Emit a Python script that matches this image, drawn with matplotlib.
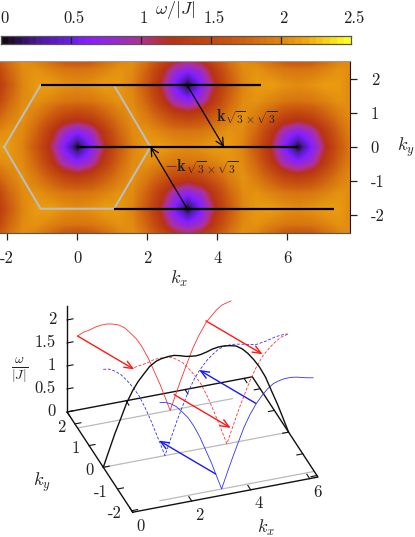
import numpy as np
import matplotlib
matplotlib.use('Agg')
import matplotlib.pyplot as plt
from matplotlib.colors import LinearSegmentedColormap

plt.rcParams['mathtext.fontset'] = 'cm'
plt.rcParams['font.family'] = ['cmr10', 'DejaVu Sans']
plt.rcParams['axes.unicode_minus'] = False

# ---------- data ----------
cbar_ticks = [0, 0.5, 1, 1.5, 2, 2.5]
cbar_labels = ['0', '0.5', '1', '1.5', '2', '2.5']
palette_pos = [0, 0.25, 0.5, 0.62, 0.9, 1.0, 1.2, 1.5, 1.75, 2.0, 2.2, 2.5]
palette_col = ['#140a14', '#4c1a9c', '#6e1eec', '#8a1eff', '#a030b4', '#b03090', '#b83216',
               '#c24810', '#cf6010', '#de8410', '#f0a810', '#ffff20']

heat_x_ticks = [-2, 0, 2, 4, 6]
heat_y_ticks = [-2, -1, 0, 1, 2]

# energy table: rows top to bottom, columns left to right
heat_rows_y = [2.715, 2.26, 1.81, 1.36, 0.905, 0.45, 0, -0.45, -0.905, -1.36, -1.81, -2.26, -2.715]
heat_cols_x = [-2.356, -1.963, -1.571, -1.178, -0.785, -0.393, 0, 0.393, 0.785, 1.178, 1.571, 1.963, 2.356,
               2.749, 3.142, 3.534, 3.927, 4.320, 4.712, 5.105, 5.498, 5.890, 6.283, 6.676, 7.069, 7.461,
               7.854, 8.247]
row_a = [1.72, 1.94, 2.08, 1.94, 1.72, 1.48, 1.38, 1.48, 1.72, 1.94, 2.08, 1.94, 1.72, 1.48, 1.38, 1.48, 1.72, 1.94, 2.08, 1.94, 1.72, 1.48, 1.38, 1.48, 1.72, 1.94, 2.08, 1.94]
row_b = [1.35, 1.78, 2.03, 2.08, 2.00, 1.92, 1.90, 1.92, 2.00, 2.08, 2.03, 1.78, 1.35, 0.88, 0.68, 0.88, 1.35, 1.78, 2.03, 2.08, 2.00, 1.92, 1.90, 1.92, 2.00, 2.08, 2.03, 1.78]
row_c = [1.16, 1.66, 2.00, 2.12, 2.14, 2.08, 2.04, 2.08, 2.14, 2.12, 2.00, 1.66, 1.16, 0.60, 0.00, 0.60, 1.16, 1.66, 2.00, 2.12, 2.14, 2.08, 2.04, 2.08, 2.14, 2.12, 2.00, 1.66]
row_d = [2.00, 2.08, 2.03, 1.78, 1.35, 0.88, 0.68, 0.88, 1.35, 1.78, 2.03, 2.08, 2.00, 1.92, 1.90, 1.92, 2.00, 2.08, 2.03, 1.78, 1.35, 0.88, 0.68, 0.88, 1.35, 1.78, 2.03, 2.08]
row_e = [2.14, 2.12, 2.00, 1.66, 1.16, 0.60, 0.00, 0.60, 1.16, 1.66, 2.00, 2.12, 2.14, 2.08, 2.04, 2.08, 2.14, 2.12, 2.00, 1.66, 1.16, 0.60, 0.00, 0.60, 1.16, 1.66, 2.00, 2.12]
heat_table = [row_a, row_b, row_c, row_b, row_a, row_d, row_e, row_d, row_a, row_b, row_c, row_b, row_a]

hex_x = [-2.09, -1.05, 1.05, 2.09, 1.05, -1.05, -2.09]
hex_y = [0, 1.81, 1.81, 0, -1.81, -1.81, 0]

path_y = [1.81, 0, -1.81]
path_x0 = [-1.05, 0, 1.05]
path_x1 = [5.24, 6.28, 7.33]

top_arrow_from = [(3.14, 1.81), (3.14, -1.81)]
top_arrow_to = [(4.19, 0), (2.09, 0)]

# 3D panel curves
black_kx = [0, .2, .39, .6, .79, 1, 1.18, 1.4, 1.57, 1.8, 1.96, 2.2, 2.4, 2.6, 2.8, 3.0, 3.14, 3.3, 3.5, 3.7, 3.9, 4.1, 4.3, 4.5, 4.71, 4.9, 5.1, 5.3, 5.5, 5.7, 5.9, 6.08, 6.28]
black_w = [0, .35, .68, 1.0, 1.3, 1.55, 1.72, 1.88, 2.0, 2.09, 2.12, 2.14, 2.14, 2.11, 2.07, 2.05, 2.04, 2.05, 2.08, 2.12, 2.14, 2.14, 2.12, 2.09, 2.0, 1.88, 1.72, 1.53, 1.29, .97, .66, .35, 0]

red_kx = [0, .2, .4, .6, .8, 1.0, 1.16, 1.4, 1.6, 1.8, 2.0, 2.2, 2.4, 2.6, 2.8, 2.94, 3.14, 3.34, 3.5, 3.7, 3.9, 4.1, 4.35, 4.5, 4.7, 4.9, 5.2]
red_w = [2.0, 2.06, 2.08, 2.12, 2.14, 2.14, 2.12, 2.07, 1.98, 1.84, 1.69, 1.48, 1.22, .91, .6, .35, 0, .35, .62, .94, 1.25, 1.5, 1.76, 1.86, 1.99, 2.08, 2.13]

blue_kx = [1.05, 1.2, 1.4, 1.6, 1.8, 2.0, 2.2, 2.4, 2.6, 2.8, 2.94, 3.14, 3.34, 3.5, 3.7, 3.9, 4.1, 4.3, 4.5, 4.7, 4.9, 5.1, 5.3, 5.5, 5.7, 6.0, 6.24]
blue_w = [2.13, 2.12, 2.07, 1.98, 1.84, 1.69, 1.48, 1.22, .91, .6, .35, 0, .35, .62, .94, 1.25, 1.5, 1.7, 1.86, 1.99, 2.08, 2.12, 2.14, 2.14, 2.12, 2.07, 2.04]

blue_dash_kx = [0, .2, .4, .6, .8, 1.0, 1.2, 1.4, 1.6, 1.89, 2.09, 2.29, 2.5, 2.7, 2.9, 3.1, 3.25, 3.5, 3.7, 3.9, 4.1, 4.3, 4.5, 4.8, 5.0, 5.2, 5.5, 5.8, 6.0, 6.25]
blue_dash_w = [2.13, 2.11, 2.04, 1.94, 1.79, 1.62, 1.42, 1.15, .84, .35, 0, .35, .71, 1.02, 1.32, 1.56, 1.7, 1.89, 2.0, 2.09, 2.13, 2.14, 2.13, 2.09, 2.06, 2.04, 2.07, 2.12, 2.14, 2.14]

red_dash_kx = [1.05, 1.3, 1.5, 1.7, 1.9, 2.1, 2.3, 2.5, 2.7, 2.9, 3.1, 3.3, 3.5, 3.7, 3.9, 4.0, 4.19, 4.39, 4.6, 4.8, 5.0, 5.2, 5.4, 5.6, 5.8, 6.0, 6.25]
red_dash_w = [2.04, 2.07, 2.09, 2.13, 2.14, 2.13, 2.11, 2.04, 1.94, 1.79, 1.62, 1.42, 1.15, .84, .5, .33, 0, .35, .71, 1.02, 1.32, 1.56, 1.76, 1.89, 2.0, 2.09, 2.13]

grey_ky = [1.81, 0, -1.81]
grey_kx0 = [0, 0, 1.05]
grey_kx1 = [5.24, 6.28, 6.28]

# arrows as (kx, ky, w) -> (kx, ky, w)
red_arrows = [((0, 1.81, 2.0), (1.05, 0, 2.0)),
              ((3.27, 1.81, .33), (4.32, 0, .33)),
              ((4.35, 1.81, 1.8), (5.4, 0, 1.8))]
blue_arrows = [((2.94, -1.81, .35), (1.89, 0, .35)),
               ((4.3, -1.81, 1.72), (3.25, 0, 1.72))]

w_ticks = [0, 0.5, 1, 1.5, 2]
w_labels = ['0', '0.5', '1', '1.5', '2']
ky_ticks = [-2, -1, 0, 1, 2]
kx_ticks = [0, 2, 4, 6]
kx_range = (0, 6.28)
ky_range = (-2.07, 2.55)
w_top = 2.3

# ---------- figure ----------
W, H = 415, 537
fig = plt.figure(figsize=(W / 100, H / 100), dpi=100)
INK = '#222222'
FS = 12


def axes_px(l, t, r, b):
    return fig.add_axes([l / W, 1 - b / H, (r - l) / W, (b - t) / H])


stops = [(p / 2.5, c) for p, c in zip(palette_pos, palette_col)]
cmap = LinearSegmentedColormap.from_list('pal', stops, N=50)
cmap_fine = LinearSegmentedColormap.from_list('palf', stops, N=256)

# colour bar
cax = axes_px(1, 36, 350.5, 43.5)
cax.imshow(np.linspace(0, 2.5, 50)[None, :], aspect='auto', cmap=cmap, vmin=0, vmax=2.5,
           extent=(0, 2.5, 0, 1), interpolation='nearest')
cax.set_xticks([])
cax.set_yticks([])
for t, lab in zip(cbar_ticks, cbar_labels):
    cax.annotate(lab, xy=(t, 1), xycoords=('data', 'axes fraction'), xytext=(2.2, 13), textcoords='offset points',
                 fontsize=FS, ha='center', va='center', color=INK, annotation_clip=False)
for t in cbar_ticks[1:-1]:
    cax.axvline(t, color='#222222', lw=0.9)
for s in cax.spines.values():
    s.set_color('#555555')
    s.set_linewidth(0.9)
fig.text(175 / W, 1 - 10 / H, r'$\omega/|J|$', fontsize=FS + 1, ha='center', va='center', color=INK)

# heat map
hax = axes_px(0, 61, 350, 233)
x_lo, x_hi = (0 - 77.3) / 35, (350 - 77.3) / 35
y_lo, y_hi = -(233 - 147) / 34.1, (147 - 61) / 34.1
dx = heat_cols_x[1] - heat_cols_x[0]
dy = heat_rows_y[0] - heat_rows_y[1]
hax.imshow(np.array(heat_table), cmap=cmap_fine, vmin=0, vmax=2.5, aspect='auto', interpolation='bilinear',
           extent=(heat_cols_x[0] - dx / 2, heat_cols_x[-1] + dx / 2,
                   heat_rows_y[-1] - dy / 2, heat_rows_y[0] + dy / 2))
hax.set_xlim(x_lo, x_hi)
hax.set_ylim(y_lo, y_hi)
hax.plot(hex_x, hex_y, color='#bdbdbd', lw=1.5, solid_joinstyle='miter')
for y, a, b in zip(path_y, path_x0, path_x1):
    hax.plot([a, b], [y, y], color='black', lw=1.6, solid_capstyle='butt')
for s, e in zip(top_arrow_from, top_arrow_to):
    hax.annotate('', xy=e, xytext=s, arrowprops=dict(arrowstyle='->,head_length=0.55,head_width=0.28',
                                                     color='black', lw=0.9, shrinkA=0, shrinkB=0))
hax.text(4.85, 0.9, r'$\mathbf{k}_{\sqrt{3}\times\sqrt{3}}$', fontsize=FS, color=INK, ha='center', va='center')
hax.text(3.55, -0.58, r'$-\mathbf{k}_{\sqrt{3}\times\sqrt{3}}$', fontsize=FS, color=INK, ha='center', va='center')
hax.set_xticks(heat_x_ticks, [str(v) for v in heat_x_ticks], fontsize=FS, color=INK)
hax.set_yticks(heat_y_ticks, [str(v) for v in heat_y_ticks], fontsize=FS, color=INK)
hax.yaxis.tick_right()
hax.tick_params(axis='both', length=5, width=0.9, pad=8, colors=INK)
hax.tick_params(axis='y', pad=10)
hax.spines['left'].set_visible(False)
hax.spines['top'].set_color('#999999')
hax.spines['right'].set_color('#111111')
hax.spines['bottom'].set_color('#555555')
fig.text(179 / W, 1 - 279 / H, r'$k_x$', fontsize=FS + 1, ha='center', va='center', color=INK)
fig.text(405.5 / W, 1 - 147 / H, r'$k_y$', fontsize=FS + 1, ha='center', va='center', color=INK)

# 3D panel: orthographic projection onto the figure
pax = fig.add_axes([0, 0, 1, 1], facecolor='none')
pax.set_xlim(0, W)
pax.set_ylim(H, 0)
pax.axis('off')


def proj(kx, ky, w):
    kx, ky, w = np.asarray(kx, float), np.asarray(ky, float), np.asarray(w, float)
    return 103.3 + 29.5 * kx - 14.2 * ky, 467.3 - 5.6 * kx - 21.7 * ky - 46.0 * w


def line3(kx, ky, w, **kw):
    n = max(np.size(kx), np.size(ky), np.size(w))
    X, Y = proj(np.broadcast_to(kx, n), np.broadcast_to(ky, n), np.broadcast_to(w, n))
    pax.plot(X, Y, **kw)


for ky, a, b in zip(grey_ky, grey_kx0, grey_kx1):
    line3([a, b], ky, 0, color='#bbbbbb', lw=0.9)

kx0, kx1 = kx_range
ky0, ky1 = ky_range
BK = dict(color='#111111', lw=1.0)
line3([kx0, kx1, kx1, kx0, kx0], [ky0, ky0, ky1, ky1, ky0], 0, **BK)
line3(kx0, ky1, [0, w_top], **BK)

for w, lab in zip(w_ticks, w_labels):
    line3([0, 0.2], ky1, w, color='#111111', lw=0.8)
    x, y = proj(0, ky1, w)
    pax.text(x - 11, y - 1, lab, fontsize=FS, ha='right', va='center', color=INK)
for ky in ky_ticks:
    line3([kx0, kx0 + 0.2], ky, 0, color='#111111', lw=0.8)
    line3([kx1, kx1 - 0.2], ky, 0, color='#111111', lw=0.8)
    x, y = proj(0, ky, 0)
    pax.text(x - 9.5, y + 3, str(ky), fontsize=FS, ha='right', va='center', color=INK)
for kx in kx_ticks:
    line3(kx, [ky0, ky0 + 0.2], 0, color='#111111', lw=0.8)
    line3(kx, [ky1, ky1 - 0.2], 0, color='#111111', lw=0.8)
    x, y = proj(kx, ky0, 0)
    pax.text(x + 8, y + 14, str(kx), fontsize=FS, ha='center', va='center', color=INK)
pax.text(20, 370, r'$\frac{\omega}{|J|}$', fontsize=FS + 2, ha='center', va='center', color=INK)
pax.text(42, 482, r'$k_y$', fontsize=FS + 1, ha='center', va='center', color=INK)
pax.text(266, 528, r'$k_x$', fontsize=FS + 1, ha='center', va='center', color=INK)

RED, BLUE = '#ff3030', '#3030ff'
line3(red_dash_kx, 0, red_dash_w, color=RED, lw=0.6, ls=(0, (3.5, 2)))
line3(blue_dash_kx, 0, blue_dash_w, color=BLUE, lw=0.6, ls=(0, (3.5, 2)))
line3(red_kx, 1.81, red_w, color=RED, lw=0.6)
line3(blue_kx, -1.81, blue_w, color=BLUE, lw=0.6)
line3(black_kx, 0, black_w, color='#111111', lw=1.0)

for arrows, col in ((red_arrows, '#ff1818'), (blue_arrows, '#1818ff')):
    for s, e in arrows:
        pax.annotate('', xy=proj(*e), xytext=proj(*s),
                     arrowprops=dict(arrowstyle='->,head_length=0.6,head_width=0.25', color=col, lw=1.0,
                                     shrinkA=0, shrinkB=0))

fig.savefig('out.png', dpi=100)
